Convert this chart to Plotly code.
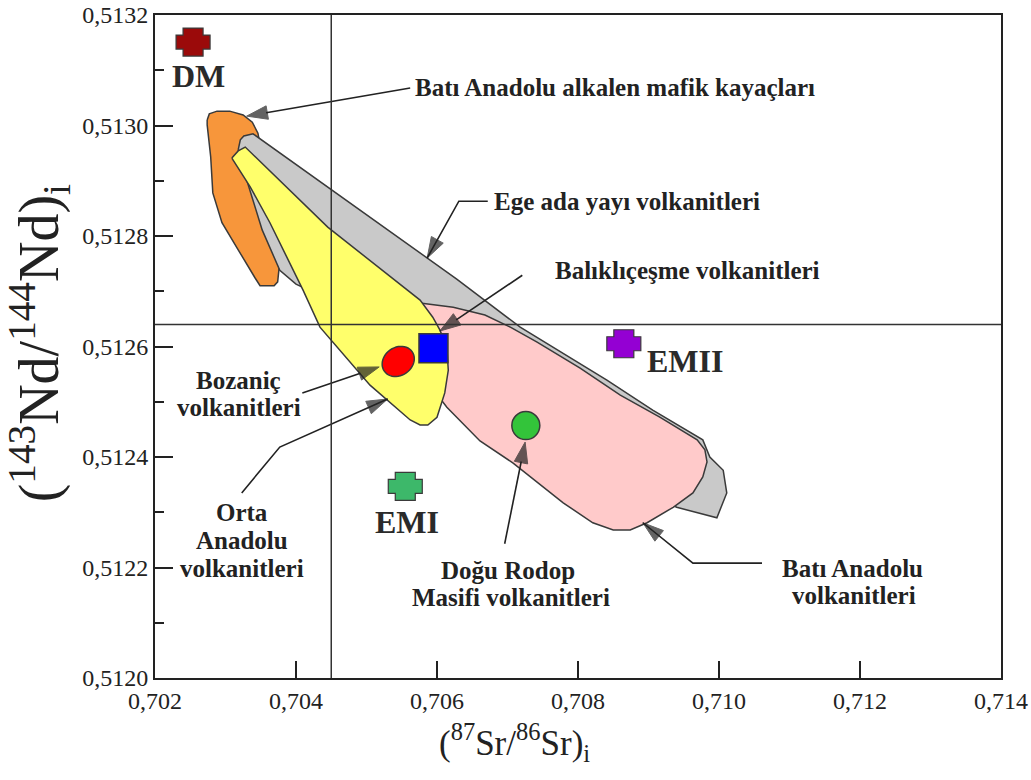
import math
import plotly.graph_objects as go

# ---- axis limits -------------------------------------------------------
X_RANGE = [0.702, 0.714]
Y_RANGE = [0.5120, 0.5132]
X_TICK0, X_DTICK = 0.702, 0.002
Y_TICK0, Y_DTICK, Y_MINOR = 0.5120, 0.0002, 0.0001

# bulk-earth reference lines
SR_REF = 0.7045
ND_REF = 0.51264

# ---- compositional fields (87Sr/86Sr, 143Nd/144Nd) ----------------------
alkalen_x = [0.70274, 0.70277, 0.70288, 0.70306, 0.70325, 0.70338, 0.70346, 0.70353,
             0.70366, 0.70376, 0.70374, 0.70369, 0.70349, 0.70342, 0.70318, 0.70295,
             0.70282, 0.70279, 0.70274]
alkalen_y = [0.513010, 0.513021, 0.513026, 0.513026, 0.513019, 0.513006, 0.512986, 0.512938,
             0.512811, 0.512742, 0.512717, 0.512710, 0.512710, 0.512724, 0.512775, 0.512824,
             0.512878, 0.512943, 0.513001]

ege_x = [0.70318, 0.70321, 0.70326, 0.70339, 0.70628, 0.70718, 0.70841, 0.70906,
         0.70977, 0.70987, 0.71006, 0.71011, 0.70997, 0.70940, 0.70831, 0.70618,
         0.70448, 0.70400, 0.70377, 0.70352, 0.70328]
ege_y = [0.512956, 0.512974, 0.512981, 0.512985, 0.512722, 0.512635, 0.512539, 0.512485,
         0.512431, 0.512400, 0.512376, 0.512335, 0.512290, 0.512309, 0.512376, 0.512630,
         0.512684, 0.512713, 0.512738, 0.512811, 0.512910]

bati_x = [0.70562, 0.70623, 0.70668, 0.70704, 0.70742, 0.70803, 0.70860, 0.70916,
          0.70969, 0.70980, 0.70983, 0.70977, 0.70963, 0.70935, 0.70898, 0.70874,
          0.70850, 0.70821, 0.70779, 0.70708, 0.70661, 0.70614, 0.70590, 0.70562]
bati_y = [0.512681, 0.512671, 0.512657, 0.512635, 0.512608, 0.512561, 0.512512, 0.512472,
          0.512431, 0.512413, 0.512391, 0.512364, 0.512335, 0.512309, 0.512281, 0.512268,
          0.512268, 0.512281, 0.512317, 0.512389, 0.512429, 0.512490, 0.512530, 0.512630]

orta_x = [0.70309, 0.70318, 0.70328, 0.70445, 0.70576, 0.70594, 0.70604, 0.70614,
          0.70616, 0.70611, 0.70600, 0.70587, 0.70576, 0.70562, 0.70505, 0.70434,
          0.70410, 0.70363, 0.70335]
orta_y = [0.512941, 0.512954, 0.512961, 0.512816, 0.512684, 0.512653, 0.512630, 0.512599,
          0.512557, 0.512516, 0.512472, 0.512458, 0.512458, 0.512467, 0.512530, 0.512635,
          0.512702, 0.512824, 0.512889]

# ---- sample averages ----------------------------------------------------
bozanic_xy = (0.70545, 0.512573)
balikli_xy = (0.70595, 0.512597)
rodop_xy = (0.70726, 0.512457)

# ---- mantle end-members -------------------------------------------------
mantle_names = ["DM", "EMII", "EMI"]
mantle_x = [0.70254, 0.70865, 0.70555]
mantle_y = [0.513151, 0.512605, 0.512347]
mantle_colors = ["#9B0A0A", "#9400D3", "#3DB86A"]
mantle_label_x = [0.70262, 0.70952, 0.70557]
mantle_label_y = [0.513090, 0.512574, 0.512282]

# ---- field labels (one entry per text line) -----------------------------
label_text = ["Batı Anadolu alkalen mafik kayaçları", "Ege ada yayı volkanitleri",
              "Balıklıçeşme volkanitleri",
              "Bozaniç", "volkanitleri",
              "Orta", "Anadolu", "volkanitleri",
              "Doğu Rodop", "Masifi volkanitleri",
              "Batı Anadolu", "volkanitleri"]
label_x = [0.70566, 0.70678, 0.70765,
           0.70319, 0.70319,
           0.70323, 0.70323, 0.70323,
           0.70701, 0.70705,
           0.71189, 0.71191]
label_y = [0.513068, 0.512863, 0.512738,
           0.512538, 0.512489,
           0.512300, 0.512248, 0.512199,
           0.512195, 0.512145,
           0.512199, 0.512150]
label_anchor = ["left", "left", "left"] + ["center"] * 9

# ---- leader lines (tail ... tip) ----------------------------------------
leader_x = [[0.70562, 0.70330],
            [0.70672, 0.70631, 0.70586],
            [0.70721, 0.70604],
            [0.70409, 0.70518],
            [0.70323, 0.70377, 0.70530],
            [0.70696, 0.70725],
            [0.71061, 0.70963, 0.70892]]
leader_y = [[0.513068, 0.513017],
            [0.512863, 0.512863, 0.512760],
            [0.512729, 0.512628],
            [0.512516, 0.512563],
            [0.512335, 0.512418, 0.512505],
            [0.512243, 0.512427],
            [0.512208, 0.512208, 0.512281]]

SERIF = "Liberation Serif, Times New Roman, serif"
INK = "#222222"
EDGE = "#3a3a3a"

fig = go.Figure()


def add_field(xs, ys, color):
    fig.add_trace(go.Scatter(
        x=xs + xs[:1], y=ys + ys[:1], mode="lines", fill="toself",
        fillcolor=color, line=dict(color=EDGE, width=1.5),
        hoverinfo="skip", showlegend=False))


add_field(alkalen_x, alkalen_y, "#F7963B")
add_field(ege_x, ege_y, "#C9C9C9")
add_field(bati_x, bati_y, "#FFCACA")
add_field(orta_x, orta_y, "#FFFF6B")

# Balıklıçeşme (square) and Doğu Rodop (circle)
fig.add_trace(go.Scatter(
    x=[balikli_xy[0]], y=[balikli_xy[1]], mode="markers",
    marker=dict(symbol="square", size=29, color="#0000FF",
                line=dict(color=EDGE, width=1.5)),
    hoverinfo="skip", showlegend=False))
fig.add_trace(go.Scatter(
    x=[rodop_xy[0]], y=[rodop_xy[1]], mode="markers",
    marker=dict(symbol="circle", size=28, color="#33C43A",
                line=dict(color=EDGE, width=1.5)),
    hoverinfo="skip", showlegend=False))

# leader lines with arrow heads at the tip
for lx, ly in zip(leader_x, leader_y):
    n = len(lx)
    fig.add_trace(go.Scatter(
        x=lx, y=ly, mode="lines+markers",
        line=dict(color=INK, width=1.6),
        marker=dict(symbol=["circle"] * (n - 1) + ["arrow"],
                    size=[0] * (n - 1) + [22], angleref="previous",
                    color=INK, line=dict(width=1, color=INK)),
        hoverinfo="skip", showlegend=False))

shapes = []

# reference lines
shapes.append(dict(type="line", xref="x", yref="paper", x0=SR_REF, x1=SR_REF,
                   y0=0, y1=1, line=dict(color="#333333", width=1.5)))
shapes.append(dict(type="line", xref="paper", yref="y", x0=0, x1=1,
                   y0=ND_REF, y1=ND_REF, line=dict(color="#333333", width=1.5)))


def cross_path(w=17, h=14, a=10, b=7):
    pts = [(-a, h), (a, h), (a, b), (w, b), (w, -b), (a, -b), (a, -h),
           (-a, -h), (-a, -b), (-w, -b), (-w, b), (-a, b)]
    return "M" + " L".join(f"{px},{py}" for px, py in pts) + " Z"


def ellipse_path(rx=17, ry=14, ang=35, n=48):
    t = math.radians(ang)
    pts = []
    for k in range(n):
        u = 2 * math.pi * k / n
        ex, ey = rx * math.cos(u), ry * math.sin(u)
        pts.append((ex * math.cos(t) - ey * math.sin(t),
                    ex * math.sin(t) + ey * math.cos(t)))
    return "M" + " L".join(f"{px:.2f},{py:.2f}" for px, py in pts) + " Z"


for mx, my, mc in zip(mantle_x, mantle_y, mantle_colors):
    shapes.append(dict(type="path", xref="x", yref="y", xsizemode="pixel",
                       ysizemode="pixel", xanchor=mx, yanchor=my,
                       path=cross_path(), fillcolor=mc,
                       line=dict(color=EDGE, width=1.2)))

# Bozaniç average (ellipse)
shapes.append(dict(type="path", xref="x", yref="y", xsizemode="pixel",
                   ysizemode="pixel", xanchor=bozanic_xy[0], yanchor=bozanic_xy[1],
                   path=ellipse_path(), fillcolor="#FF0000",
                   line=dict(color=EDGE, width=1.5)))

annotations = []
for txt, lx, ly, anc in zip(label_text, label_x, label_y, label_anchor):
    annotations.append(dict(x=lx, y=ly, xref="x", yref="y", text=f"<b>{txt}</b>",
                            showarrow=False, xanchor=anc, yanchor="middle",
                            font=dict(family=SERIF, size=25, color=INK)))

for name, lx, ly in zip(mantle_names, mantle_label_x, mantle_label_y):
    annotations.append(dict(x=lx, y=ly, xref="x", yref="y", text=f"<b>{name}</b>",
                            showarrow=False, xanchor="center", yanchor="middle",
                            font=dict(family=SERIF, size=32, color="#2a2a2a")))

# axis titles
annotations.append(dict(x=0.4255, y=-0.097, xref="paper", yref="paper",
                        text="(<sup>87</sup>Sr/<sup>86</sup>Sr)<sub>i</sub>",
                        showarrow=False, xanchor="center", yanchor="middle",
                        font=dict(family=SERIF, size=35, color=INK)))
annotations.append(dict(x=-0.137, y=0.505, xref="paper", yref="paper",
                        text="(<sup>143</sup>Nd/<sup>144</sup>Nd)<sub>i</sub>",
                        textangle=-90, showarrow=False, xanchor="center",
                        yanchor="middle",
                        font=dict(family=SERIF, size=56, color=INK)))

axis_common = dict(showgrid=False, zeroline=False, showline=True, linewidth=2,
                   linecolor=INK, mirror=True, ticks="inside", tickwidth=2,
                   tickcolor=INK, automargin=False,
                   tickfont=dict(family=SERIF, size=24, color=INK))

fig.update_layout(
    width=1031, height=780,
    margin=dict(l=155, r=30, t=15, b=102, autoexpand=False),
    paper_bgcolor="white", plot_bgcolor="white",
    separators=", ",
    showlegend=False,
    shapes=shapes,
    annotations=annotations,
    xaxis=dict(range=X_RANGE, tickmode="linear", tick0=X_TICK0, dtick=X_DTICK,
               tickformat=".3f", ticklen=17, **axis_common),
    yaxis=dict(range=Y_RANGE, tickmode="linear", tick0=Y_TICK0, dtick=Y_DTICK,
               tickformat=".4f", ticklen=18,
               minor=dict(ticks="inside", ticklen=9, tickwidth=2, tickcolor=INK,
                          dtick=Y_MINOR, tick0=Y_TICK0),
               **axis_common),
)

fig.write_html("out.html")
